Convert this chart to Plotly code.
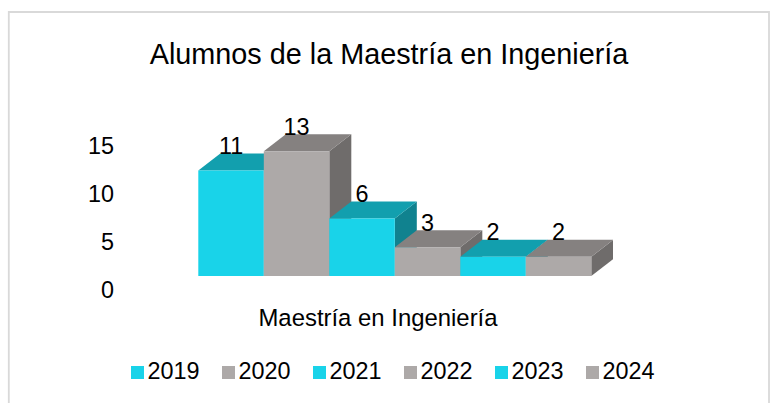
import plotly.graph_objects as go

OFF = 0
W, H = 772, 403
years = ["2019", "2020", "2021", "2022", "2023", "2024"]
alumnos = [11, 13, 6, 3, 2, 2]
title_text = "Alumnos de la Maestría en Ingeniería"
axis_title = "Maestría en Ingeniería"
y_ticks = [0, 5, 10, 15]

CYAN = ("#19D3E9", "#129FAE", "#10828F")   # front, top, side
GRAY = ("#ADA9A8", "#858180", "#6F6C6B")
FONT = "Liberation Sans, Arial, sans-serif"

# pixel scale of the drawing, in window pixels
UNIT_X, UNIT_Y = 65.5, 9.6
X0_PX, BASE_PX, TICK0_PX = 198.3, 276.0, 290.0
DX, DY = 22 / UNIT_X, 17 / UNIT_Y
LEFT_PX, RIGHT_PX = 143.0, 613.0
Y2MAX = 20
LEG_X0, LEG_STEP, LEG_Y = 137.5, 91.0, 372.5
LEG_TEXT_DX, LEG_TEXT_DY = 10.0, 0.5


def fx(px):
    return (px - OFF) / W


def fy(px):
    return 1 - (px - OFF) / H


xr = [(LEFT_PX - X0_PX) / UNIT_X - 0.5, (RIGHT_PX - X0_PX) / UNIT_X - 0.5]

fig = go.Figure()


def face(xs, ys, color):
    fig.add_trace(go.Scatter(x=xs, y=ys, mode="lines", fill="toself", fillcolor=color,
                             line=dict(width=0, color=color), hoverinfo="skip",
                             showlegend=False, xaxis="x", yaxis="y2"))


for i, (yr, v) in enumerate(zip(years, alumnos)):
    front, top, side = CYAN if i % 2 == 0 else GRAY
    l, r = i - 0.5, i + 0.5
    face([r, r + DX, r + DX, r, r], [0, DY, v + DY, v, 0], side)
    face([l, r, r + DX, l + DX, l], [v, v, v + DY, v + DY, v], top)
    face([l, r, r, l, l], [0, 0, v, v, 0], front)

# data labels
fig.add_trace(go.Scatter(x=list(range(len(years))), y=[v + 22.5 / UNIT_Y for v in alumnos],
                         mode="text", text=[str(v) for v in alumnos], textposition="middle center",
                         textfont=dict(family=FONT, size=23.4, color="#000000"),
                         hoverinfo="skip", showlegend=False, xaxis="x", yaxis="y2", cliponaxis=False))

# empty trace that keeps the tick axis on the page
fig.add_trace(go.Scatter(x=[None], y=[None], mode="markers", hoverinfo="skip", showlegend=False,
                         xaxis="x", yaxis="y"))

# legend row, on an overlay axis pair measured in window pixels
for i, yr in enumerate(years):
    fig.add_trace(go.Scatter(x=[LEG_X0 + LEG_STEP * i], y=[LEG_Y], mode="markers", name=yr,
                             marker=dict(symbol="square", size=13, color=CYAN[0] if i % 2 == 0 else GRAY[0]),
                             showlegend=False, cliponaxis=False, xaxis="x3", yaxis="y3"))
    fig.add_trace(go.Scatter(x=[LEG_X0 + LEG_STEP * i + LEG_TEXT_DX], y=[LEG_Y + LEG_TEXT_DY], mode="text", name=yr,
                             text=[yr], textposition="middle right",
                             textfont=dict(family=FONT, size=23.4, color="#000000"),
                             showlegend=False, cliponaxis=False, xaxis="x3", yaxis="y3"))

fig.update_layout(
    width=W, height=H, autosize=False,
    margin=dict(l=0, r=0, t=0, b=0),
    paper_bgcolor="white", plot_bgcolor="rgba(0,0,0,0)",
    font=dict(family=FONT, color="#000000", size=23.4),
    showlegend=False,
    title=dict(text=title_text, x=fx(389), xanchor="center", y=fy(54), yanchor="middle",
               font=dict(family=FONT, size=28.8, color="#000000")),
    xaxis=dict(domain=[fx(LEFT_PX), fx(RIGHT_PX)], range=xr, anchor="y2", showgrid=False, automargin=False,
               zeroline=False, showline=False, showticklabels=False, ticks="",
               title=dict(text=axis_title, standoff=33, font=dict(family=FONT, size=23.9, color="#000000"))),
    yaxis=dict(domain=[fy(TICK0_PX), fy(TICK0_PX - 15 * UNIT_Y)], range=[0, 15], automargin=False,
               anchor="free", position=fx(114), side="left", tickmode="array", tickvals=y_ticks,
               ticktext=[str(t) for t in y_ticks], showgrid=False, zeroline=False, showline=False,
               ticks="", tickfont=dict(family=FONT, size=23.4, color="#000000")),
    yaxis2=dict(domain=[fy(BASE_PX), fy(BASE_PX - Y2MAX * UNIT_Y)], range=[0, Y2MAX], automargin=False,
                anchor="x", visible=False),
    xaxis3=dict(domain=[0, 1], range=[OFF, OFF + W], anchor="y3", visible=False, automargin=False),
    yaxis3=dict(domain=[0, 1], range=[OFF + H, OFF], anchor="x3", visible=False, automargin=False),
    shapes=[dict(type="path", xref="paper", yref="paper", layer="below",
                 path=f"M {fx(8.8)} -0.1 L {fx(8.8)} {fy(12)} L {fx(769)} {fy(12)} L {fx(769)} -0.1",
                 line=dict(color="#D9D9D9", width=1.8))],
)

fig.write_html("out.html", default_width=f"{W}px", default_height=f"{H}px",
               config={"displayModeBar": False},
               post_script="document.body.style.margin='0';document.documentElement.style.overflow='hidden';")
